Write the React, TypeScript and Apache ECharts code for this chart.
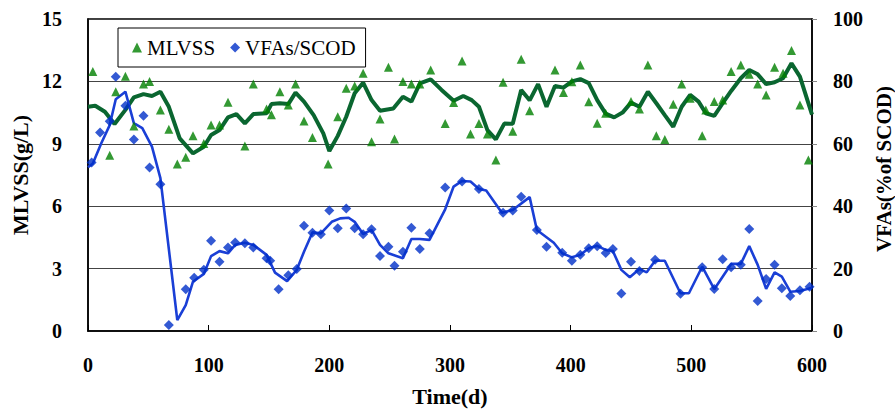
import React, { useEffect, useRef } from "react";
import * as echarts from "echarts";

// MLVSS scatter: [day, g/L]
const mlvssDays = [4, 18, 23, 31, 38, 46, 51, 60, 67, 74, 81, 87, 96, 102, 109, 116, 130, 137, 148, 152, 159, 166, 172, 179, 186, 199, 207, 214, 221, 228, 235, 242, 249, 254, 261, 268, 275, 284, 296, 303, 310, 317, 324, 331, 338, 344, 352, 359, 366, 387, 394, 401, 408, 415, 422, 429, 450, 457, 464, 471, 478, 485, 492, 499, 509, 512, 519, 526, 533, 541, 548, 555, 562, 569, 576, 583, 590, 597];
const mlvssValues = [12.47, 8.45, 11.5, 12.25, 9.86, 11.87, 12.0, 10.62, 9.7, 8.03, 8.35, 9.39, 9.02, 9.9, 9.9, 11.0, 8.9, 11.87, 10.67, 10.4, 11.5, 10.87, 11.87, 10.1, 9.3, 8.03, 10.3, 11.67, 11.78, 12.39, 9.1, 10.19, 12.68, 9.23, 11.99, 11.87, 11.87, 12.55, 9.98, 10.98, 12.98, 9.47, 9.98, 9.47, 8.22, 11.96, 9.6, 13.06, 10.59, 12.55, 11.47, 11.98, 12.79, 11.02, 9.99, 10.47, 11.03, 10.67, 12.79, 9.39, 9.21, 10.9, 11.87, 11.19, 9.39, 10.62, 11.03, 11.1, 12.47, 12.79, 12.34, 11.87, 11.35, 12.68, 12.39, 13.48, 10.87, 8.22];

// MLVSS trend line
const mlvssLineDays = [0, 6, 14, 22, 31, 38, 46, 53, 60, 67, 76, 87, 96, 102, 109, 116, 123, 130, 137, 148, 152, 159, 166, 172, 179, 187, 195, 200, 207, 214, 221, 228, 235, 242, 253, 261, 268, 275, 284, 293, 303, 311, 318, 324, 331, 338, 345, 352, 359, 366, 373, 380, 387, 394, 401, 408, 415, 422, 429, 436, 443, 450, 457, 464, 471, 478, 485, 492, 499, 506, 512, 519, 526, 533, 541, 548, 555, 562, 569, 576, 583, 590, 600];
const mlvssLineValues = [10.78, 10.83, 10.54, 9.95, 10.63, 11.23, 11.39, 11.3, 11.5, 10.78, 9.26, 8.54, 8.86, 9.42, 9.66, 10.27, 10.43, 9.98, 10.43, 10.47, 10.91, 10.95, 10.91, 11.46, 11.03, 10.38, 9.5, 8.65, 9.38, 10.3, 11.43, 11.94, 11.1, 10.59, 10.7, 11.26, 11.03, 11.9, 12.1, 11.59, 11.07, 11.3, 11.1, 10.78, 9.66, 9.21, 9.97, 9.96, 11.59, 11.09, 11.87, 10.78, 11.78, 11.7, 12.0, 12.11, 11.92, 11.1, 10.45, 10.27, 10.5, 10.98, 10.78, 11.5, 10.95, 10.38, 9.82, 10.78, 11.35, 11.03, 10.47, 10.34, 10.95, 11.54, 12.15, 12.55, 12.34, 11.87, 11.96, 12.15, 12.87, 12.23, 10.4];

// VFAs/SCOD scatter: [day, %]
const vfaDays = [3, 10, 18, 23, 31, 38, 46, 51, 60, 67, 81, 88, 96, 102, 109, 116, 122, 130, 137, 148, 151, 158, 166, 173, 179, 186, 193, 200, 207, 214, 221, 228, 235, 242, 249, 254, 261, 268, 275, 283, 296, 310, 324, 344, 352, 359, 372, 380, 393, 401, 408, 415, 422, 429, 435, 442, 450, 457, 470, 491, 509, 519, 526, 533, 541, 548, 555, 562, 569, 575, 582, 590, 598];
const vfaValues = [54, 63.6, 67.2, 81.5, 72.2, 61.4, 69, 52.4, 47, 1.9, 13.4, 17.1, 19.6, 28.9, 22.2, 26.8, 28.4, 28.1, 26.8, 23.3, 22.5, 13.4, 17.9, 19.9, 33.7, 31.5, 31, 38.6, 32.9, 39.3, 32.9, 31.0, 32.6, 24.0, 27.0, 20.9, 25.4, 33.1, 26.3, 31.3, 46.0, 47.9, 45.5, 37.9, 38.6, 43.0, 32.4, 27.0, 25.1, 22.5, 24.4, 26.5, 27.2, 25.0, 26.3, 12.0, 22.2, 19.2, 22.8, 11.9, 20.4, 13.5, 23.0, 20.4, 21.2, 32.7, 9.6, 16.7, 21.2, 13.7, 11.2, 13.1, 14.2];

// VFAs/SCOD trend line
const vfaLineDays = [0, 4, 11, 18, 23, 31, 38, 45, 53, 60, 74, 81, 87, 96, 102, 109, 116, 122, 130, 137, 148, 155, 165, 173, 179, 186, 193, 202, 209, 216, 221, 228, 235, 242, 249, 261, 268, 275, 283, 296, 303, 310, 317, 324, 330, 343, 352, 366, 372, 386, 393, 401, 408, 415, 422, 429, 435, 442, 449, 457, 463, 470, 478, 491, 498, 509, 519, 533, 541, 548, 555, 562, 569, 575, 582, 590, 600];
const vfaLineValues = [52.5, 53.7, 60.2, 66.0, 74.3, 76.7, 66.6, 65.0, 59.1, 49, 3.5, 8.3, 15.8, 18.3, 24.0, 25.6, 24.9, 27.6, 28.3, 27.6, 24.4, 18.7, 16.0, 19.6, 25.4, 31.6, 31.3, 35.0, 36.1, 36.3, 35.0, 31.1, 32.4, 27.6, 24.9, 23.3, 29.5, 29.5, 29.2, 39.0, 46.3, 48.1, 47.9, 45.5, 45.0, 37.9, 38.8, 42.9, 32.4, 28.3, 24.9, 23.6, 24.4, 26.5, 27.3, 26.0, 25.6, 19.6, 17.2, 19.9, 18.8, 22.5, 22.5, 12.1, 12.1, 20.6, 13.4, 21.5, 21.5, 27.2, 21.2, 13.5, 18.8, 17.4, 12.6, 12.8, 13.9];

const xTicks = { min: 0, max: 600, interval: 100 };
const leftTicks = { min: 0, max: 15, interval: 3 };
const rightTicks = { min: 0, max: 100, interval: 20 };

const zip = (a: number[], b: number[]) => a.map((d, i) => [d, b[i]]);

const FONT = "Liberation Serif";

export default function App() {
  const ref = useRef<HTMLDivElement>(null);
  useEffect(() => {
    if (!ref.current) return;
    const chart = echarts.init(ref.current, null, { renderer: "svg" });
    const labelStyle = { fontFamily: FONT, fontWeight: "bold" as const, fontSize: 20, color: "#000" };
    const nameStyle = { fontFamily: FONT, fontWeight: "bold" as const, fontSize: 22, color: "#000" };
    chart.setOption({
      animation: false,
      backgroundColor: "#fff",
      textStyle: { fontFamily: FONT },
      grid: {
        left: 88,
        top: 19,
        width: 724,
        height: 312,
        show: true,
        borderColor: "#000",
        borderWidth: 1.5,
        backgroundColor: "transparent",
        containLabel: false,
        outerBoundsMode: "none",
      },
      legend: {
        data: ["MLVSS", "VFAs/SCOD"],
        left: 118,
        top: 28,
        orient: "horizontal",
        borderColor: "#000",
        borderWidth: 1,
        padding: [9, 10, 9, 14],
        itemWidth: 10,
        itemHeight: 10,
        itemGap: 15,
        textStyle: { fontFamily: FONT, fontSize: 21, color: "#000" },
      },
      xAxis: {
        type: "value",
        ...xTicks,
        name: "Time(d)",
        nameLocation: "middle",
        nameGap: 54,
        nameTextStyle: nameStyle,
        axisLine: { show: true, lineStyle: { color: "#000", width: 1.5 } },
        axisTick: { show: true, inside: true, length: 6, lineStyle: { color: "#000" } },
        axisLabel: { ...labelStyle, margin: 24 },
        splitLine: { show: false },
      },
      yAxis: [
        {
          type: "value",
          ...leftTicks,
          name: "MLVSS(g/L)",
          nameLocation: "middle",
          nameRotate: 90,
          nameGap: 56,
          nameTextStyle: nameStyle,
          axisLine: { show: true, lineStyle: { color: "#000", width: 1.5 } },
          axisTick: { show: false },
          axisLabel: { ...labelStyle, margin: 26 },
          splitLine: { show: true, lineStyle: { color: "#444", width: 1 } },
        },
        {
          type: "value",
          position: "right",
          ...rightTicks,
          name: "VFAs(%of SCOD)",
          nameLocation: "middle",
          nameRotate: 90,
          nameGap: 58,
          nameTextStyle: { ...nameStyle, fontSize: 21, padding: [0, 0, 0, 12] },
          axisLine: { show: true, lineStyle: { color: "#000", width: 1.5 } },
          axisTick: { show: true, inside: false, length: 5, lineStyle: { color: "#888" } },
          axisLabel: { ...labelStyle, margin: 21 },
          splitLine: { show: false },
        },
      ],
      series: [
        {
          name: "MLVSS trend",
          type: "line",
          data: zip(mlvssLineDays, mlvssLineValues),
          showSymbol: false,
          lineStyle: { color: "#0a6630", width: 4 },
          itemStyle: { color: "#0a6630" },
          z: 2,
        },
        {
          name: "VFAs trend",
          type: "line",
          yAxisIndex: 1,
          data: zip(vfaLineDays, vfaLineValues),
          showSymbol: false,
          lineStyle: { color: "#1a3fd6", width: 2.6 },
          itemStyle: { color: "#1a3fd6" },
          z: 2,
        },
        {
          name: "MLVSS",
          type: "scatter",
          symbol: "triangle",
          symbolSize: 9,
          data: zip(mlvssDays, mlvssValues),
          itemStyle: { color: "#008000" },
          z: 3,
        },
        {
          name: "VFAs/SCOD",
          type: "scatter",
          yAxisIndex: 1,
          symbol: "diamond",
          symbolSize: 10,
          data: zip(vfaDays, vfaValues),
          itemStyle: { color: "#0030c8" },
          z: 3,
        },
      ],
    });
    return () => chart.dispose();
  }, []);
  return <div ref={ref} style={{ width: 895, height: 409, position: "absolute", left: 0, top: 0 }} />;
}
